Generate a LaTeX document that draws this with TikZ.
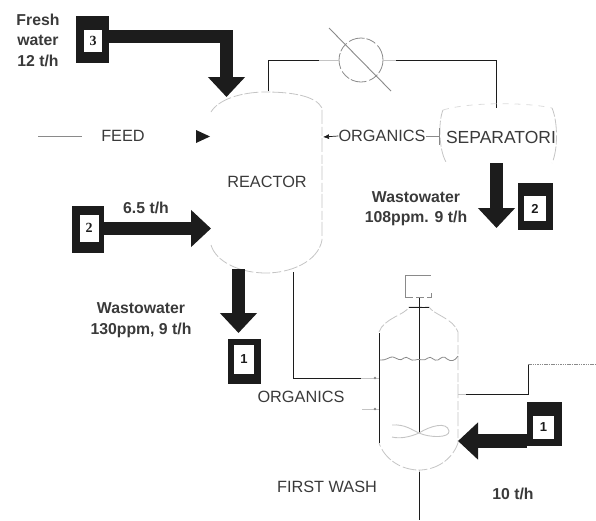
\documentclass[tikz,border=0pt]{standalone}
\usepackage{fontspec}
\setmainfont{Liberation Sans}
\newfontfamily\digitfont{Liberation Serif}
\usetikzlibrary{arrows.meta}
\definecolor{ink}{HTML}{1C1C1C}
\definecolor{txt}{HTML}{3A3A3A}
\definecolor{faint}{HTML}{C4C4C4}
\definecolor{mid}{HTML}{8A8A8A}
\tikzset{
  x=1pt,y=-1pt,
  lab/.style={font=\fontsize{16.3}{18}\selectfont,text=txt,inner sep=0pt,align=center},
  blab/.style={font=\fontsize{15.8}{20.5}\selectfont\bfseries,text=txt,inner sep=0pt,align=center},
  outerbox/.style={fill=ink,inner sep=0pt},
  innerbox/.style={fill=white,inner sep=0pt,font=\digitfont\fontsize{14}{15}\selectfont\bfseries,text=ink},
  bigarrow/.style={draw=ink,line width=13.5pt,-{Triangle[length=20pt,width=36pt]}},
  pipe/.style={draw=ink,line width=.7pt},
  fainted/.style={draw=faint,line width=.8pt,dash pattern=on 9pt off 2pt on 14pt off 3pt},
  lightline/.style={draw=faint,line width=.8pt},
}
\begin{document}
\begin{tikzpicture}
\useasboundingbox (0,0) rectangle (596,520);
% Reactor
\draw[fainted] (211,112) .. controls (218,100) and (240,92) .. (266,92) .. controls (292,92) and (316,96) .. (322,108) -- (322,240) .. controls (318,262) and (290,273) .. (266,273) .. controls (240,273) and (216,262) .. (211,245);
\node[lab] (reactor) at (267,182) {REACTOR};
% Condenser
\node[draw=mid,line width=.8pt,dash pattern=on 16pt off 3pt on 10pt off 2pt,circle,minimum size=44pt,inner sep=0pt] (cond) at (361,60) {};
\coordinate (diagA) at (329,28);
\coordinate (diagB) at (391,91);
\draw[draw=mid,line width=.9pt] (diagA) -- (diagB);
\coordinate (rtop) at (268,91);
\coordinate (rcorner) at (268,60);
\coordinate (ra) at (319,60);
\draw[pipe] (rtop) -- (rcorner) -- (ra);
\draw[lightline] (ra) -- (cond.west);
\coordinate (sa) at (396,60);
\coordinate (scorner) at (496,60);
\coordinate (stop) at (496,108);
\draw[lightline] (cond.east) -- (sa);
\draw[pipe] (sa) -- (scorner) -- (stop);
% Separator
\draw[fainted] (443,110) .. controls (438,122) and (439,150) .. (446,162);
\draw[fainted] (552,108) .. controls (558,122) and (558,150) .. (552,163);
\draw[draw=faint!60,line width=.8pt,dash pattern=on 6pt off 6pt] (443,110) .. controls (470,102) and (525,102) .. (552,108);
\node[lab,font=\fontsize{17.5}{18}\selectfont] (sep) at (501,137) {SEPARATORI};
\node[lab] (org1) at (382,136) {ORGANICS};
\coordinate (sepl) at (439,136);
\coordinate (rr) at (323,137);
\draw[pipe,draw=mid] (org1.east) -- (sepl);
\draw[pipe,draw=mid] (sepl |- 0,128) -- (sepl |- 0,145);
\draw[pipe,-{Latex[length=6pt,width=5pt]}] (org1.west) -- (rr);
% Feed legend
\coordinate (fa) at (38,136);
\coordinate (fb) at (82,136);
\draw[draw=mid,line width=.8pt] (fa) -- (fb);
\node[lab] (feed) at (123,136) {FEED};
\fill[ink] (196,130) -- (210,136.5) -- (196,143) -- cycle;
% Fresh water
\node[blab] (fresh) at (38,40) {Fresh\\water\\12 t/h};
\node[outerbox,minimum width=33pt,minimum height=47pt] (b3) at (92.5,39.5) {};
\node[innerbox,minimum width=18pt,minimum height=22pt] (b3i) at (93,41) {3};
\coordinate (a3) at (226.5,36.5);
\coordinate (a3t) at (226.5,97);
\draw[bigarrow] (b3.east |- a3) -- (a3) -- (a3t);
% Left 2
\node[outerbox,minimum width=32pt,minimum height=47pt] (b2l) at (88,229.5) {};
\node[innerbox,minimum width=19pt,minimum height=27pt] (b2li) at (89,228) {2};
\coordinate (a2t) at (211,228.5);
\draw[bigarrow] (b2l.east |- a2t) -- (a2t);
\node[blab] (r65) at (146,208) {6.5 t/h};
% Separator wastewater
\node[blab] (w108) at (416,208.5) {Wastowater\\108ppm. 9 t/h};
\coordinate (s2a) at (496.5,163);
\coordinate (s2t) at (496.5,228);
\draw[bigarrow] (s2a) -- (s2t);
\node[outerbox,minimum width=35pt,minimum height=47pt] (b2r) at (535.5,206.5) {};
\node[innerbox,minimum width=22pt,minimum height=25pt,font=\fontsize{13}{14}\selectfont\bfseries] (b2ri) at (535,208.5) {2};
% Reactor wastewater
\node[blab] (w130) at (141,320) {Wastowater\\130ppm, 9 t/h};
\coordinate (r1a) at (238.5,269);
\coordinate (r1t) at (238.5,333);
\draw[bigarrow] (r1a) -- (r1t);
\node[outerbox,minimum width=33pt,minimum height=45pt] (b1l) at (244.5,361) {};
\node[innerbox,minimum width=20pt,minimum height=29pt,font=\fontsize{13}{14}\selectfont\bfseries] (b1li) at (244,359.5) {1};
% Organics to wash
\coordinate (o1) at (293,272);
\coordinate (o2) at (293,378);
\coordinate (o3) at (361,378);
\coordinate (o4) at (379,378);
\coordinate (o5) at (362,409);
\coordinate (o6) at (379,409);
\draw[pipe] (o1) -- (o2) -- (o3);
\draw[lightline] (o3) -- (o4);
\draw[lightline] (o5) -- (o6);
\fill[mid] (375,378) circle (1.3pt) (375,409) circle (1.3pt);
\node[lab] (org2) at (301,397) {ORGANICS};
% Wash vessel
\draw[fainted] (379,332) .. controls (384,318) and (405,315) .. (409,307) -- (429,307) .. controls (434,315) and (453,318) .. (458,332) -- (458,443) .. controls (452,460) and (436,470) .. (419,470) .. controls (402,470) and (385,460) .. (379,443);
\draw[draw=ink,line width=.9pt] (379,333) -- (379,443);
\draw[draw=ink,line width=1pt] (409,307) -- (429,307);
\coordinate (sh1) at (419,298);
\coordinate (sh2) at (419,433);
\draw[pipe,line width=.9pt] (sh1) -- (sh2);
\draw[draw=mid,line width=.9pt] (405,297) -- (405,275) -- (431,275);
\draw[draw=mid,line width=.9pt,dash pattern=on 8pt off 3pt] (405,297) -- (431,297) -- (431,293);
% liquid level
\draw[draw=mid,line width=.8pt] (380,360) .. controls (386,361) and (390,356) .. (393,357) .. controls (397,358) and (400,362) .. (404,358) .. controls (407,355) and (411,362) .. (415,360) .. controls (419,358) and (424,362) .. (428,358) .. controls (431,355) and (434,362) .. (438,360) .. controls (441,358) and (444,355) .. (447,359) .. controls (451,362) and (455,361) .. (458,356);
% impeller
\draw[draw=faint,line width=.9pt] (392,425) .. controls (405,424) and (412,430) .. (419,433) .. controls (430,426) and (447,421) .. (449,431) .. controls (450,438) and (430,438) .. (419,433) .. controls (410,437) and (400,439) .. (392,437);
% Wash water
\coordinate (w1) at (458,394);
\coordinate (w2) at (466,394);
\coordinate (w3) at (528,394);
\coordinate (w4) at (528,364);
\coordinate (w5) at (596,364);
\draw[lightline] (w1) -- (w2);
\draw[pipe] (w2) -- (w3) -- (w4);
\draw[draw=mid,line width=.8pt,dash pattern=on 1.5pt off .8pt] (w4) -- (w5);
\node[outerbox,minimum width=35pt,minimum height=44pt] (b1r) at (544.5,424) {};
\node[innerbox,minimum width=21pt,minimum height=23pt,font=\fontsize{13}{14}\selectfont\bfseries] (b1ri) at (543.5,427.5) {1};
\coordinate (w1t) at (458,441);
\draw[bigarrow] (b1r.west |- w1t) -- (w1t);
% Outlet
\coordinate (bt) at (419,470);
\coordinate (bb) at (419,520);
\draw[draw=faint,line width=.8pt] (bt) -- (419,472);
\draw[pipe] (419,472) -- (bb);
\node[lab] (fw) at (327,487) {FIRST WASH};
\node[blab] (t10) at (513,494) {10 t/h};
\end{tikzpicture}
\end{document}
